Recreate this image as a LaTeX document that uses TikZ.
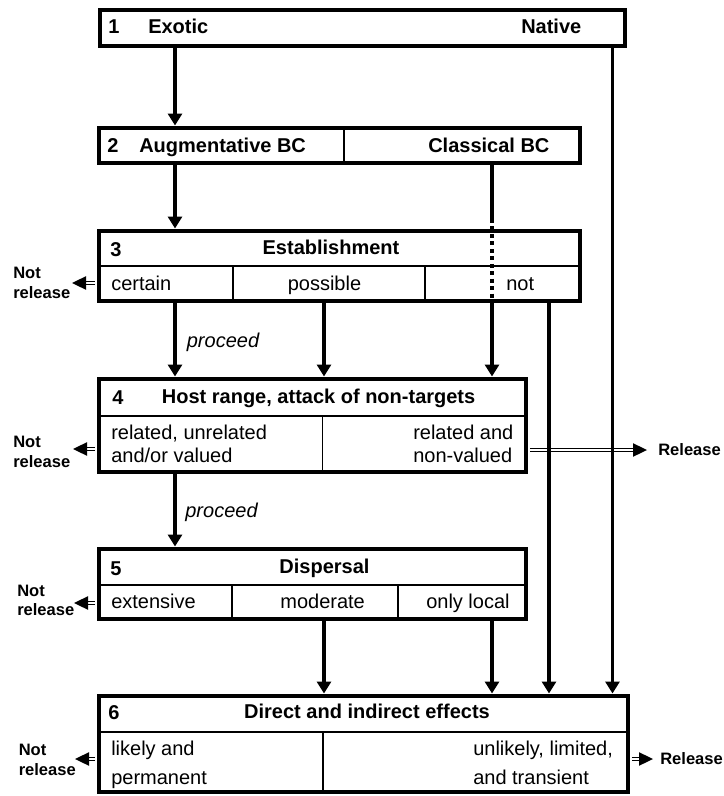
\documentclass[tikz,border=0pt]{standalone}
\usepackage{fontspec}
\setmainfont{Liberation Sans}
\usetikzlibrary{arrows.meta,fit}
\begin{document}
\begin{tikzpicture}[x=0.75pt,y=-0.75pt,
  box/.style={draw, line width=3pt, inner sep=0pt, rectangle},
  sepline/.style={line width=0.8pt},
  conn/.style={line width=2.9pt, -{Triangle[length=9pt,width=10.5pt]}},
  plainconn/.style={line width=2.9pt},
  dotconn/.style={line width=2.9pt, dash pattern=on 3pt off 2.6pt},
  dbl/.style={double=white, double distance=1pt, line width=1.3pt, shorten >=9.5pt, shorten <=1.4pt},
  txt/.style={font=\fontsize{15}{18}\selectfont, inner sep=0pt, text height=9.75pt, text depth=0.75pt},
  btxt/.style={txt, font=\fontsize{15}{18}\selectfont\bfseries},
  itxt/.style={txt, font=\fontsize{15}{18}\selectfont\itshape},
  side/.style={font=\fontsize{12.4}{15}\selectfont\bfseries, anchor=west, inner sep=0pt, text height=8.1pt, text depth=0.6pt},
]
\useasboundingbox (0,0) rectangle (724,796);

% column coordinates
\coordinate (cA) at (175,0);
\coordinate (cB) at (324,0);
\coordinate (cC) at (492,0);
\coordinate (cD) at (549,0);
\coordinate (cE) at (612.5,0);
\coordinate (dotTop) at (492,219);

% inner lines
\draw[sepline] (344,127.5) -- (344,162.5);
\draw[sepline] (99,266) -- (580,266);
\draw[sepline] (233,266) -- (233,300.5);
\draw[sepline] (425,266) -- (425,300.5);
\draw[sepline] (99,416) -- (526,416);
\draw[sepline] (322.5,416) -- (322.5,471.5);
\draw[sepline] (99,585) -- (526,585);
\draw[sepline] (232,585) -- (232,618.5);
\draw[sepline] (398,585) -- (398,618.5);
\draw[sepline] (99,732) -- (628,732);
\draw[sepline] (323,732) -- (323,791.5);

% free ends of the double arrows
\coordinate (tip3) at (72,283);
\coordinate (tip4) at (73,449);
\coordinate (tip5) at (74,603);
\coordinate (tip6) at (75,759);
\coordinate (tipR4) at (647,450);
\coordinate (tipR6) at (653,759);

% boxes
\node[box, fit={(99.5,9.5) (625,45.5)}] (b1) {};
\node[box, fit={(99,127.5) (580,162.5)}] (b2) {};
\node[box, fit={(99,230.5) (580,300.5)}] (b3) {};
\node[box, fit={(99,378.5) (526,471.5)}] (b4) {};
\node[box, fit={(99,548.5) (526,618.5)}] (b5) {};
\node[box, fit={(99,695.5) (628,791.5)}] (b6) {};

% double arrows
\draw[dbl] (b3.west |- tip3) -- (tip3);
\draw[dbl] (b4.west |- tip4) -- (tip4);
\draw[dbl] (b5.west |- tip5) -- (tip5);
\draw[dbl] (b6.west |- tip6) -- (tip6);
\draw[dbl] (b4.east |- tipR4) -- (tipR4);
\draw[dbl] (b6.east |- tipR6) -- (tipR6);
\foreach \t in {tip3,tip4,tip5,tip6}
  \fill (\t) -- ++(14,-6.8) -- ++(0,13.6) -- cycle;
\foreach \t in {tipR4,tipR6}
  \fill (\t) -- ++(-14,-6.8) -- ++(0,13.6) -- cycle;

% box texts
\node[btxt, anchor=west] (t1n) at (108,27.5) {1};
\node[btxt, anchor=west] (t1a) at (148,27.5) {Exotic};
\node[btxt, anchor=west] (t1b) at (521,27.5) {Native};

\node[btxt, anchor=west] (t2n) at (107,146) {2};
\node[btxt, anchor=west] (t2a) at (139,146) {Augmentative BC};
\node[btxt, anchor=west] (t2b) at (428,146) {Classical BC};

\node[btxt, anchor=west] (t3n) at (110,250) {3};
\node[btxt] (t3t) at (331,248) {Establishment};
\node[txt, anchor=west] (t3a) at (111,284) {certain};
\node[txt] (t3b) at (324.5,284) {possible};
\node[txt, anchor=west] (t3c) at (506,284) {not};

\node[btxt, anchor=west] (t4n) at (112,398) {4};
\node[btxt] (t4t) at (318.6,397.5) {Host range, attack of non-targets};
\node[txt, anchor=west] (t4a) at (111,433) {related, unrelated};
\node[txt, anchor=west] (t4b) at (111,456) {and/or valued};
\node[txt, anchor=west] (t4c) at (413,433) {related and};
\node[txt, anchor=west] (t4d) at (413,456) {non-valued};

\node[btxt, anchor=west] (t5n) at (110,569) {5};
\node[btxt] (t5t) at (324.5,567) {Dispersal};
\node[txt, anchor=west] (t5a) at (111,602) {extensive};
\node[txt] (t5b) at (322.6,602) {moderate};
\node[txt, anchor=west] (t5c) at (426,602) {only local};

\node[btxt, anchor=west] (t6n) at (108,713) {6};
\node[btxt] (t6t) at (367,712) {Direct and indirect effects};
\node[txt, anchor=west] (t6a) at (111,749) {likely and};
\node[txt, anchor=west] (t6b) at (111,778) {permanent};
\node[txt, anchor=west] (t6c) at (473,749) {unlikely, limited,};
\node[txt, anchor=west] (t6d) at (473,778) {and transient};

% proceed labels
\node[itxt] (p1) at (223,341) {proceed};
\node[itxt] (p2) at (221.5,511) {proceed};

% side labels
\node[side] (nr3a) at (13,273) {Not};
\node[side] (nr3b) at (13,293) {release};
\node[side] (nr4a) at (13,442) {Not};
\node[side] (nr4b) at (13,462) {release};
\node[side] (nr5a) at (17,591) {Not};
\node[side] (nr5b) at (17,610) {release};
\node[side] (nr6a) at (18.5,750) {Not};
\node[side] (nr6b) at (18.5,770) {release};
\node[side] (rel4) at (658,450) {Release};
\node[side] (rel6) at (660,759) {Release};

% connectors
\draw[conn] (b1.south -| cA) -- (b2.north -| cA);
\draw[conn] (b2.south -| cA) -- (b3.north -| cA);
\draw[plainconn] (b2.south -| cC) -- (dotTop);
\draw[dotconn] (dotTop) -- (b3.south -| cC);
\draw[conn] (b3.south -| cC) -- (b4.north -| cC);
\draw[conn] (b3.south -| cA) -- (b4.north -| cA);
\draw[conn] (b3.south -| cB) -- (b4.north -| cB);
\draw[conn] (b3.south -| cD) -- (b6.north -| cD);
\draw[conn] (b1.south -| cE) -- (b6.north -| cE);
\draw[conn] (b4.south -| cA) -- (b5.north -| cA);
\draw[conn] (b5.south -| cB) -- (b6.north -| cB);
\draw[conn] (b5.south -| cC) -- (b6.north -| cC);
\end{tikzpicture}
\end{document}
